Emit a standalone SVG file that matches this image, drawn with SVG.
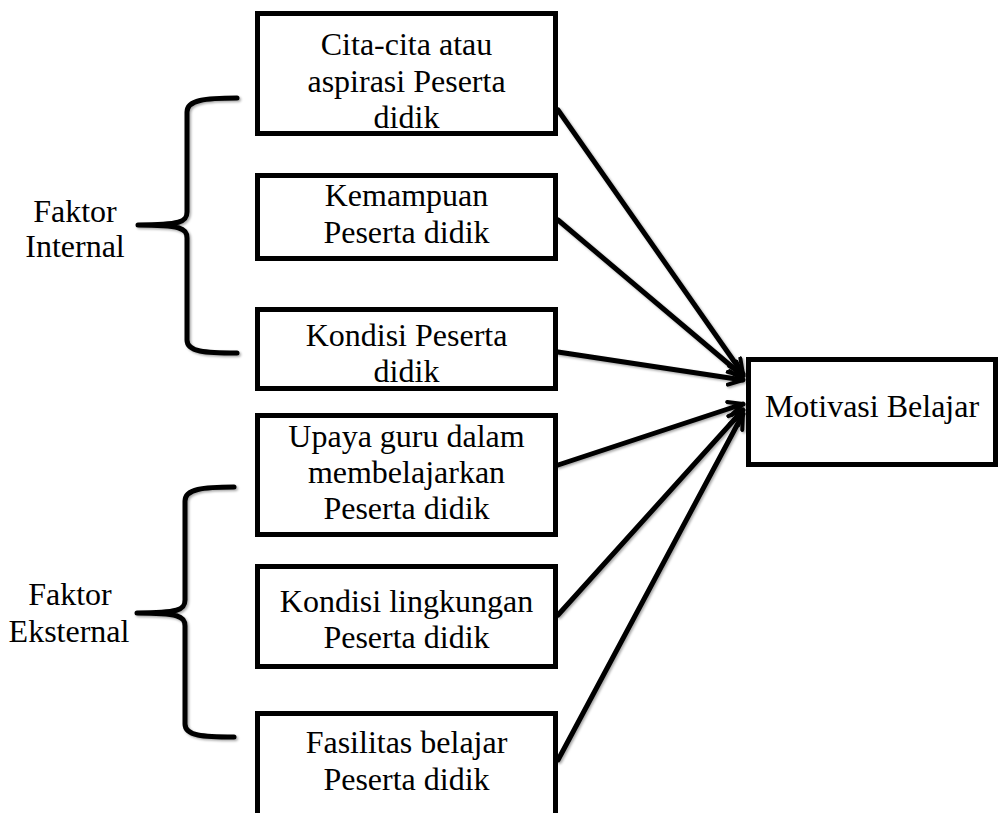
<svg xmlns="http://www.w3.org/2000/svg" width="1001" height="813" viewBox="0 0 1001 813">
<style>
.box{fill:#fff;stroke:#000;stroke-width:5}
.t{font-family:"Liberation Serif","Times New Roman",serif;font-size:32px;fill:#000;text-anchor:middle}
.c{stroke:#000;stroke-width:5;fill:none;stroke-linecap:round}
.br{stroke:#000;stroke-width:5;fill:none;stroke-linecap:round;stroke-linejoin:round}
</style>
<defs>
<filter id="sh" x="-10%" y="-10%" width="120%" height="120%">
<feDropShadow dx="1.5" dy="1.5" stdDeviation="1.2" flood-color="#000" flood-opacity="0.35"/>
</filter>
<marker id="arr" viewBox="0 0 10 10" refX="9" refY="5" markerWidth="3.6" markerHeight="3.6" orient="auto" markerUnits="strokeWidth">
<path d="M1,1.2 L9,5 L1,8.8" fill="none" stroke="#000" stroke-width="2.2" stroke-linecap="round" stroke-linejoin="round"/>
</marker>
</defs>
<rect width="1001" height="813" fill="#fff"/>
<g id="connectors" filter="url(#sh)">
<line class="c" x1="558" y1="110" x2="743" y2="374" marker-end="url(#arr)"/>
<line class="c" x1="558" y1="220" x2="743" y2="376" marker-end="url(#arr)"/>
<line class="c" x1="558" y1="352" x2="743" y2="380" marker-end="url(#arr)"/>
<line class="c" x1="558" y1="465" x2="743" y2="404" marker-end="url(#arr)"/>
<line class="c" x1="558" y1="615" x2="743" y2="410" marker-end="url(#arr)"/>
<line class="c" x1="558" y1="760" x2="743" y2="414" marker-end="url(#arr)"/>
</g>
<g id="brace-internal" filter="url(#sh)">
<path class="br" d="M237,98 C205,98 187,100 187,112 L187,212 C187,222 180,225 138,225 C180,225 187,228 187,238 L187,340 C187,352 205,353 237,353"/>
</g>
<g id="brace-external" filter="url(#sh)">
<path class="br" d="M234,487 C203,487 185,489 185,501 L185,600 C185,610 178,613 137,613 C178,613 185,616 185,626 L185,724 C185,736 203,737 234,737"/>
</g>
<g id="label-internal">
<text class="t" x="75" y="222">Faktor</text>
<text class="t" x="75" y="257">Internal</text>
</g>
<g id="label-external">
<text class="t" x="70" y="605">Faktor</text>
<text class="t" x="69" y="642">Eksternal</text>
</g>
<g id="node1">
<rect class="box" x="257.5" y="13.5" width="298" height="120"/>
<text class="t" x="406.5" y="55">Cita-cita atau</text>
<text class="t" x="406.5" y="92">aspirasi Peserta</text>
<text class="t" x="406.5" y="128">didik</text>
</g>
<g id="node2">
<rect class="box" x="257.5" y="175.5" width="298" height="83"/>
<text class="t" x="406.5" y="206">Kemampuan</text>
<text class="t" x="406.5" y="243">Peserta didik</text>
</g>
<g id="node3">
<rect class="box" x="257.5" y="309.5" width="298" height="79"/>
<text class="t" x="406.5" y="346">Kondisi Peserta</text>
<text class="t" x="406.5" y="382">didik</text>
</g>
<g id="node4">
<rect class="box" x="257.5" y="415.5" width="298" height="119"/>
<text class="t" x="406.5" y="447">Upaya guru dalam</text>
<text class="t" x="406.5" y="483">membelajarkan</text>
<text class="t" x="406.5" y="519">Peserta didik</text>
</g>
<g id="node5">
<rect class="box" x="257.5" y="566.5" width="298" height="100"/>
<text class="t" x="406.5" y="612">Kondisi lingkungan</text>
<text class="t" x="406.5" y="648">Peserta didik</text>
</g>
<g id="node6">
<rect class="box" x="257.5" y="713.5" width="298" height="106"/>
<text class="t" x="406.5" y="753">Fasilitas belajar</text>
<text class="t" x="406.5" y="790">Peserta didik</text>
</g>
<g id="node-motivasi">
<rect class="box" x="748.5" y="359.5" width="247" height="105"/>
<text class="t" x="872" y="417">Motivasi Belajar</text>
</g>
</svg>
